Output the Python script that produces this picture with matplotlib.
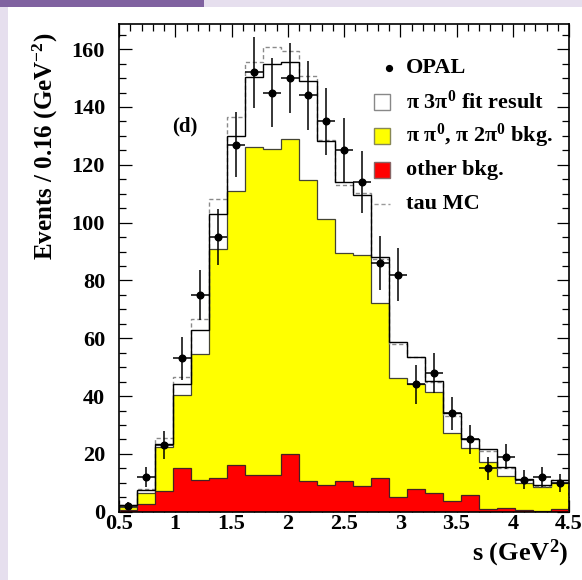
import numpy as np
import matplotlib
matplotlib.use("Agg")
import matplotlib.pyplot as plt
from matplotlib.patches import Rectangle
from matplotlib.lines import Line2D
from matplotlib.ticker import MultipleLocator, FuncFormatter

plt.rcParams['font.family'] = ['Liberation Serif', 'DejaVu Serif']
plt.rcParams['font.weight'] = 'bold'
plt.rcParams['mathtext.fontset'] = 'custom'
plt.rcParams['mathtext.rm'] = 'Liberation Serif:bold'
plt.rcParams['mathtext.it'] = 'Liberation Serif:bold'
plt.rcParams['mathtext.bf'] = 'Liberation Serif:bold'
plt.rcParams['mathtext.default'] = 'rm'

# binning: 25 bins of 0.16 GeV^2 from 0.5
s_min = 0.5
bin_width = 0.16
n_bins = 25
edges = s_min + bin_width * np.arange(n_bins + 1)
centers = edges[:-1] + bin_width / 2

opal_data = [2, 12, 23, 53, 75, 95, 127, 152, 145, 150, 144, 135, 125,
             114, 86, 82, 44, 48, 34, 25, 15, 19, 11, 12, 10]
opal_err = [1.4, 3.5, 4.8, 7.3, 8.7, 9.7, 11.3, 12.3, 12.0, 12.2, 12.0, 11.6, 11.2,
            10.7, 9.3, 9.1, 6.6, 6.9, 5.8, 5.0, 3.9, 4.4, 3.3, 3.5, 3.2]
fit_result = [2.2, 7.4, 23.5, 44.3, 62.8, 102.9, 130.1, 150.3, 154.8, 155.7, 148.9,
              128.2, 114.0, 109.6, 88.2, 58.8, 53.4, 45.3, 34.0, 25.2, 21.6, 15.6,
              11.4, 9.3, 11.0]
tau_mc = [2.4, 7.8, 25.4, 46.5, 66.7, 108.2, 136.4, 155.7, 160.9, 159.5, 150.8,
          128.5, 113.0, 110.3, 87.3, 57.9, 53.4, 44.9, 33.2, 25.0, 21.0, 15.2,
          11.0, 9.0, 10.8]
pipi0_bkg_total = [1.5, 6.6, 22.3, 40.5, 54.7, 91.0, 111.0, 126.3, 125.4, 129.0, 114.8,
                   101.2, 89.4, 88.7, 72.3, 46.4, 44.1, 41.5, 27.3, 22.1, 17.3, 12.5,
                   9.8, 8.6, 9.8]
other_bkg = [0.6, 2.8, 7.3, 15.0, 11.1, 11.8, 16.0, 12.6, 12.7, 20.0, 10.6, 9.1,
             10.5, 8.8, 11.5, 5.0, 7.8, 6.4, 3.6, 5.8, 0.9, 1.4, 0.6, 0.35, 0.8]

legend_labels = ["OPAL", r"π 3π$^{0}$ fit result", r"π π$^{0}$, π 2π$^{0}$ bkg.",
                 "other bkg.", "tau MC"]

W, H = 582, 580
fig = plt.figure(figsize=(W / 100, H / 100), dpi=100)
fig.patch.set_facecolor('white')

# page decorations
fig.patches.append(Rectangle((0, 0), 8 / W, 1 - 7 / H, transform=fig.transFigure,
                             facecolor='#e6dfee', edgecolor='none', zorder=0))
fig.patches.append(Rectangle((0, 1 - 7 / H), 204 / W, 7 / H, transform=fig.transFigure,
                             facecolor='#8062a0', edgecolor='none', zorder=0))
fig.patches.append(Rectangle((204 / W, 1 - 7 / H), 1 - 204 / W, 7 / H, transform=fig.transFigure,
                             facecolor='#e6dfee', edgecolor='none', zorder=0))

ax_l, ax_r, ax_t, ax_b = 119, 569, 24, 511.7
ax = fig.add_axes([ax_l / W, 1 - ax_b / H, (ax_r - ax_l) / W, (ax_b - ax_t) / H])

ax.stairs(fit_result, edges, fill=True, facecolor='white', edgecolor='none', zorder=1)
ax.stairs(fit_result, edges, fill=False, edgecolor='black', linewidth=1.0, zorder=4)
ax.stairs(tau_mc, edges, fill=False, edgecolor='#8a8a8a', linewidth=1.0,
          linestyle=(0, (3, 2)), zorder=3)
ax.stairs(pipi0_bkg_total, edges, fill=True, facecolor='#ffff00', edgecolor='#444433',
          linewidth=0.9, zorder=2)
ax.stairs(other_bkg, edges, fill=True, facecolor='#ff0000', edgecolor='#442222',
          linewidth=0.9, zorder=2.5)

ax.errorbar(centers, opal_data, yerr=opal_err, xerr=bin_width / 2, fmt='o', color='black',
            markersize=4.8, elinewidth=1.1, capsize=0, zorder=6)

ax.set_xlim(0.5, 4.5)
ax.set_ylim(0, 168.7)

ax.xaxis.set_major_locator(MultipleLocator(0.5))
ax.xaxis.set_minor_locator(MultipleLocator(0.1))
ax.yaxis.set_major_locator(MultipleLocator(20))
ax.yaxis.set_minor_locator(MultipleLocator(5))
ax.xaxis.set_major_formatter(FuncFormatter(lambda v, p: '%g' % v))
ax.tick_params(which='both', direction='in', top=True, right=True, width=0.9, color='black')
ax.tick_params(which='major', length=9)
ax.tick_params(which='minor', length=5)
ax.tick_params(axis='y', which='major', labelsize=16, pad=10)
ax.tick_params(axis='x', which='major', labelsize=16, pad=2)
for sp in ax.spines.values():
    sp.set_linewidth(1.2)

for t in ax.get_yticklabels():
    t.set_fontweight('bold')
for t in ax.get_xticklabels():
    t.set_fontweight('bold')

fig.text(45 / W, 1 - 33 / H, r"Events / 0.16 (GeV$^{-2}$)", rotation=90, ha='center',
         va='top', fontsize=18, fontweight='bold')
fig.text(569 / W, 1 - 553 / H, r"s (GeV$^{2}$)", ha='right', va='center',
         fontsize=19, fontweight='bold')

ax.text(0.1467, 0.7908, "(d)", transform=ax.transAxes, ha='center', va='center',
        fontsize=15, fontweight='bold', zorder=7)

# legend (manual)
def fx(px):
    return (px - ax_l) / (ax_r - ax_l)

def fy(py):
    return (ax_b - py) / (ax_b - ax_t)

rows = [68, 102, 136, 170, 204]
bx0, bx1 = fx(374), fx(390)
bh = 16 / (ax_b - ax_t)
tx = fx(406)
ax.plot([fx(389)], [fy(rows[0])], 'o', color='black', markersize=4.2,
        transform=ax.transAxes, zorder=8)
for i, (fc, ec) in enumerate([('white', '#888888'), ('#ffff00', '#888855'),
                              ('#ff0000', '#886666')]):
    ax.add_patch(Rectangle((bx0, fy(rows[i + 1]) - bh / 2), bx1 - bx0, bh,
                           transform=ax.transAxes, facecolor=fc, edgecolor=ec,
                           linewidth=1.0, zorder=8))
ax.add_line(Line2D([bx0, bx1], [fy(rows[4]), fy(rows[4])], transform=ax.transAxes,
                   color='#9a9a9a', linewidth=1.0, linestyle=(0, (3, 2)), zorder=8))
for r, lab in zip(rows, legend_labels):
    ax.text(tx, fy(r), lab, transform=ax.transAxes, ha='left', va='center',
            fontsize=16, fontweight='bold', zorder=8)

fig.savefig("out.png", dpi=100)
